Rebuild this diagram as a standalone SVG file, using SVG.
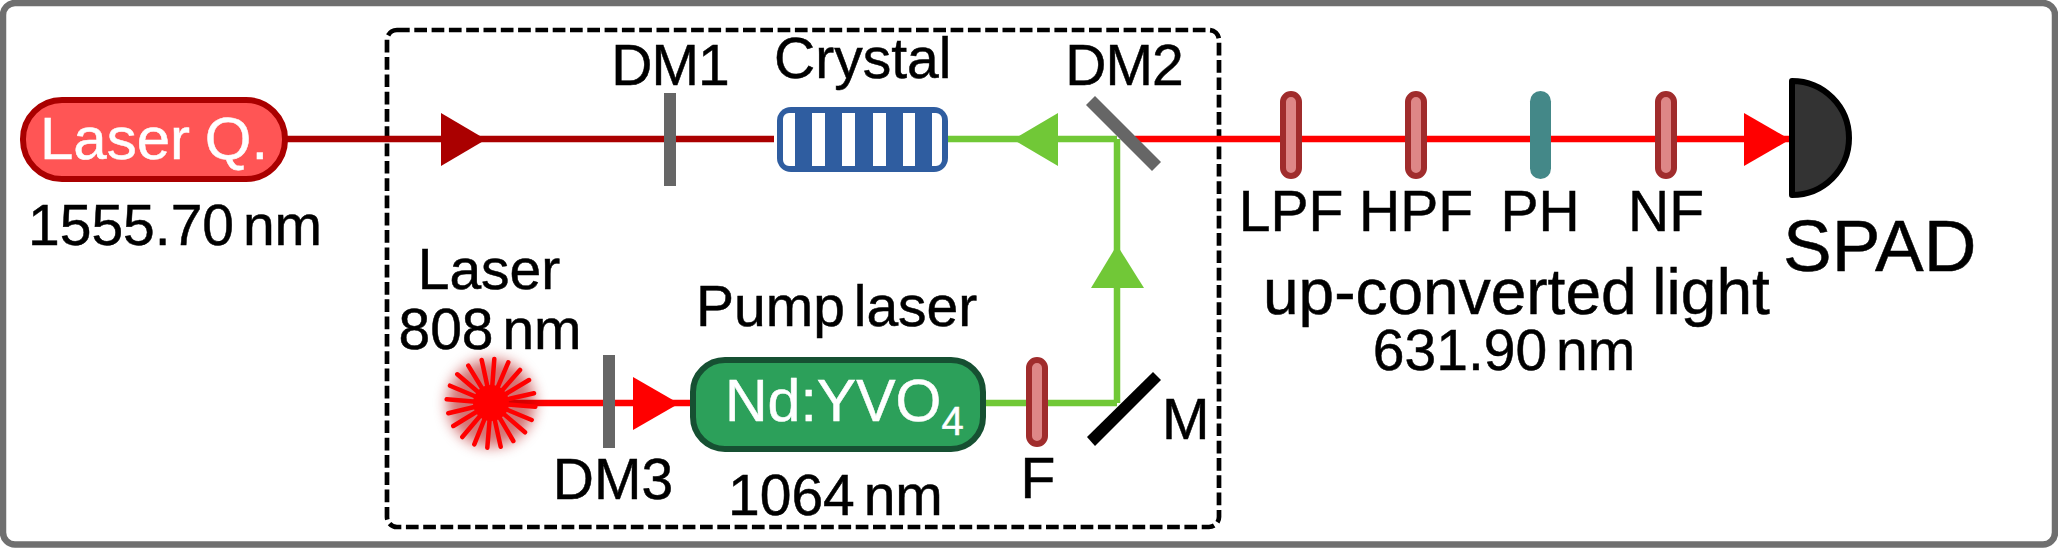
<svg xmlns="http://www.w3.org/2000/svg" width="2058" height="548" viewBox="0 0 2058 548">
<style>
text{font-family:"Liberation Sans",Arial,sans-serif;font-size:57px;fill:#000;stroke:#000;stroke-width:.5}
.m{text-anchor:middle}
.w{fill:#fff;stroke:#fff}
.n{word-spacing:-7px}
.filter{fill:#de8787;stroke:#a02c2c;stroke-width:6}
.dm{fill:#666}
.beam{fill:none;stroke-width:6.5}
</style>
<defs><filter id="glow" x="-50%" y="-50%" width="200%" height="200%"><feGaussianBlur stdDeviation="7"/></filter></defs>
<rect id="frame" x="3" y="3" width="2052" height="541.5" rx="12" fill="#fff" stroke="#6f6f6f" stroke-width="6.5"/>
<rect id="box" x="387" y="30" width="832" height="497" rx="10" fill="none" stroke="#000" stroke-width="4.7" stroke-dasharray="12.7 4.6"/>
<g id="connectors">
<path class="beam" stroke="#a00" d="M286 139H774"/>
<path fill="#a00" d="M441 113L486 139.5L441 166Z"/>
<path class="beam" stroke="#f00" d="M1135 139H1790"/>
<path fill="#f00" d="M1744 113L1790 139.5L1744 166Z"/>
<path class="beam" stroke="#71c837" d="M948 139H1117M1117 139V403M986 403H1117"/>
<path fill="#71c837" d="M1058 113L1013 139.5L1058 166Z"/>
<path fill="#71c837" d="M1117 245L1144 288H1091Z"/>
<path class="beam" stroke="#f00" d="M491 403H690"/>
<path fill="#f00" d="M633 377L679 403.5L633 430Z"/>
</g>
<g id="laser-q"><rect x="23" y="100" width="262" height="79" rx="39" fill="#f55" stroke="#a00" stroke-width="6"/><text class="w" x="40" y="159" style="font-size:60px;word-spacing:-2px">Laser Q.</text></g>
<text id="laser-q-wl" class="n" x="28" y="245">1555.70 nm</text>
<g id="dm1"><rect class="dm" x="664" y="93" width="12" height="93"/><text class="m" x="670" y="85" style="letter-spacing:-1px">DM1</text></g>
<g id="crystal"><rect x="777" y="107" width="171" height="65" rx="14" fill="#2f5da0"/>
<path fill="#fff" d="M795 113V166H789A6 6 0 0 1 783 160V119A6 6 0 0 1 789 113ZM812 113H825V166H812ZM842 113H855V166H842ZM873 113H886V166H873ZM903 113H915V166H903ZM932 113H936A6 6 0 0 1 942 119V160A6 6 0 0 1 936 166H932Z"/>
<text x="774" y="78">Crystal</text></g>
<g id="dm2"><path class="dm" d="M1086 105L1095 96L1161 162L1152 171Z"/><text class="m" x="1124" y="85" style="letter-spacing:-1px">DM2</text></g>
<g id="lpf"><rect class="filter" x="1283" y="94" width="16" height="82" rx="8"/><text class="m" x="1291" y="231">LPF</text></g>
<g id="hpf"><rect class="filter" x="1408" y="94" width="16" height="82" rx="8"/><text class="m" x="1416" y="231">HPF</text></g>
<g id="ph"><rect x="1530" y="91" width="21" height="88" rx="10.5" fill="#488"/><text class="m" x="1540" y="231">PH</text></g>
<g id="nf"><rect class="filter" x="1658" y="94" width="16" height="82" rx="8"/><text class="m" x="1666" y="231">NF</text></g>
<g id="spad"><path d="M1792 81A57 57 0 0 1 1792 195Z" fill="#333" stroke="#000" stroke-width="6" stroke-linejoin="round"/><text x="1783" y="271" style="font-size:73px">SPAD</text></g>
<text id="up" x="1263" y="314" style="font-size:64px;word-spacing:-2px">up-converted light</text>
<text id="up-wl" class="n m" x="1504" y="370">631.90 nm</text>
<g id="laser808">
<circle cx="491" cy="403" r="44" fill="#b00000" opacity=".55" filter="url(#glow)"/>
<g stroke="#f00" stroke-width="4.5" stroke-linecap="round" fill="none">
<path id="spokes" d="M491 403L494.3 359M491 403L481.7 360M491 403L468.3 365.7M491 403L457.3 374.3M491 403L450 385.7M491 403L446.7 399.3M491 403L448.3 413.3M491 403L453.3 426M491 403L462.3 437M491 403L474.3 444.3M491 403L487.3 447.7M491 403L500.7 446.7M491 403L513.3 441M491 403L525 432.3M491 403L531.7 420M491 403L535.3 406.7M491 403L534 393.3M491 403L529 380M491 403L520 370M491 403L508.3 362.3"/>
</g>
<circle cx="491" cy="403" r="18" fill="#f00"/>
<text class="m" x="489" y="289">Laser</text>
<text class="n m" x="490" y="349">808 nm</text>
</g>
<g id="dm3"><rect class="dm" x="603" y="355" width="12" height="93"/><text class="m" x="613" y="499">DM3</text></g>
<g id="pump"><text x="696" y="326" class="n">Pump laser</text>
<rect x="693" y="360" width="290" height="89" rx="32" fill="#2ca05a" stroke="#165032" stroke-width="6"/>
<text class="w" x="725" y="421" style="font-size:59px">Nd:YVO<tspan dy="14" style="font-size:40px">4</tspan></text>
<text class="n" x="728" y="515">1064 nm</text></g>
<g id="f"><rect class="filter" x="1029" y="360" width="16" height="84" rx="8"/><text class="m" x="1038" y="498">F</text></g>
<g id="m"><path d="M1087 437L1153 372L1161 380L1095 446Z"/><text x="1162" y="439">M</text></g>
</svg>
